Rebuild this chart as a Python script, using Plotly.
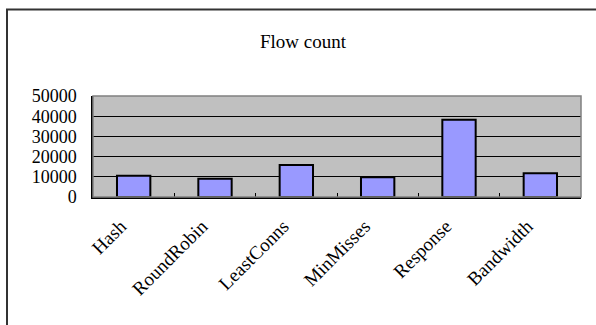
import plotly.graph_objects as go

categories = ["Hash", "RoundRobin", "LeastConns", "MinMisses", "Response", "Bandwidth"]
flow_count = [10500, 9000, 15800, 9800, 38300, 11800]
y_ticks = [0, 10000, 20000, 30000, 40000, 50000]
title_text = "Flow count"

W, H = 596, 325
L, R, T, B = 93, 15, 96, 128
pw, ph = W - L - R, H - T - B

def px_x(px):
    return (px - L) / pw

def px_y(py):
    return (H - B - py) / ph

fig = go.Figure()
fig.add_trace(go.Bar(
    x=categories, y=flow_count,
    marker=dict(color="#9999FF", line=dict(color="black", width=2)),
    width=0.41,
))

font = "Liberation Serif, Times New Roman, serif"
fig.update_layout(
    width=W, height=H,
    margin=dict(l=L, r=R, t=T, b=B, autoexpand=False),
    paper_bgcolor="white",
    plot_bgcolor="#C0C0C0",
    showlegend=False,
    font=dict(family=font, size=18, color="black"),
    title=dict(text=title_text, x=(303 / W), xanchor="center",
               y=1 - 41 / H, yanchor="middle",
               font=dict(family=font, size=19, color="black")),
    bargap=0.59,
)
fig.update_xaxes(
    type="category",
    tickangle=-45,
    ticks="inside", ticklen=4, tickcolor="black", tickwidth=1,
    tickson="boundaries",
    showline=True, linecolor="black", linewidth=1.5,
    showgrid=False,
    ticklabelstandoff=9, ticklabelshift=-13,
    tickfont=dict(family=font, size=19, color="black"),
)
fig.update_yaxes(
    range=[0, 50000],
    tickvals=y_ticks,
    ticktext=[str(v) for v in y_ticks],
    showgrid=True, gridcolor="black", gridwidth=1,
    showline=True, linecolor="black", linewidth=1.5,
    ticks="", ticklabelstandoff=11,
    zeroline=False,
    tickfont=dict(family=font, size=18, color="black"),
)
# plot area outline (gray)
fig.add_shape(type="rect", xref="paper", yref="paper", x0=0, y0=0, x1=1, y1=1,
              line=dict(color="#808080", width=1.5), layer="above")
# outer chart frame
fig.add_shape(type="rect", xref="paper", yref="paper",
              x0=px_x(7), y0=px_y(335), x1=px_x(606), y1=px_y(9.5),
              line=dict(color="#333333", width=2))

fig.write_html("out.html", config={"displayModeBar": False},
               post_script="document.body.style.margin='0';")
